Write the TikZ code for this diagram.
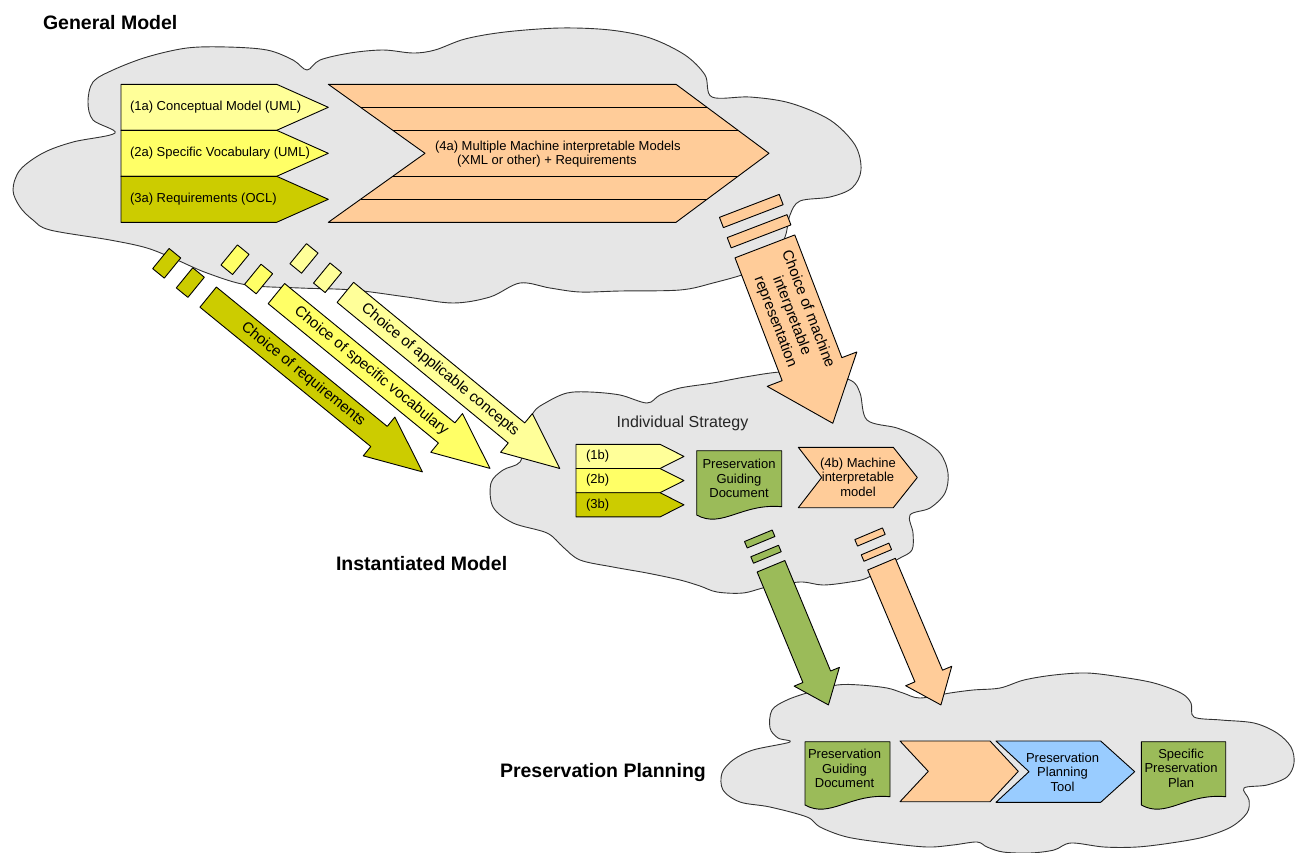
\documentclass[tikz,border=0pt]{standalone}
\usepackage{fontspec}
\setmainfont{Liberation Sans}
\definecolor{cloudgray}{HTML}{E6E6E6}
\definecolor{lightyel}{HTML}{FFFF99}
\definecolor{midyel}{HTML}{FFFF66}
\definecolor{darkyel}{HTML}{CCCC00}
\definecolor{peach}{HTML}{FFCC99}
\definecolor{leaf}{HTML}{9BBB59}
\definecolor{sky}{HTML}{99CCFF}

% geometry of a broken block arrow: dash thickness, gap, shaft width, head width, head length
\newcommand\arrowgeom[5]{\def\ad{#1}\def\ag{#2}\def\aw{#3}\def\ahw{#4}\def\ahl{#5}}
% #1 origin (centre of first dash), #2 angle below horizontal, #3 length to tip,
% #4 fill, #5 name of the label, #6 label position along the arrow, #7 label
\newcommand\brokenarrow[7]{%
  \begin{scope}[shift={#1}, rotate=-#2]
    \draw[box, fill=#4] (-\ad/2,-\aw/2) rectangle (\ad/2,\aw/2);
    \draw[box, fill=#4] (\ad/2+\ag,-\aw/2) rectangle (\ad*1.5+\ag,\aw/2);
    \draw[box, fill=#4] (\ad*1.5+\ag*2,-\aw/2) -- (#3-\ahl,-\aw/2) -- (#3-\ahl,-\ahw/2)
      -- (#3,0) -- (#3-\ahl,\ahw/2) -- (#3-\ahl,\aw/2) -- (\ad*1.5+\ag*2,\aw/2) -- cycle;
    \node[arrowtext, rotate=-#2] (#5) at (#6,0) {#7};
  \end{scope}}
% chevron: #1 name, #2 left, #3 notch, #4 right, #5 tip, #6 top, #7 bottom, #8 fill
\newcommand\chevron[8]{%
  \draw[box, fill=#8] (#2,#6) -- (#4,#6) -- (#5,{(#6+#7)/2}) -- (#4,#7) -- (#2,#7)
    -- (#3,{(#6+#7)/2}) -- cycle;
  \coordinate (#1) at ({(#2+#5)/2},{(#6+#7)/2});}
% document symbol: #1 name, #2 left, #3 right, #4 top, #5 lower left corner y, #6 fill
\newcommand\docshape[6]{%
  \draw[box, fill=#6] (#2,#4) -- (#3,#4) -- (#3,#5-8.3)
    .. controls (#3-40,#5-12) and (#2+25,#5+14) .. (#2,#5) -- cycle;
  \coordinate (#1) at ({(#2+#3)/2},{(#4+#5)/2});}

\begin{document}
\begin{tikzpicture}[x=1pt, y=-1pt, line join=round,
  every node/.style={inner sep=0pt, outer sep=0pt, text=black},
  cloudline/.style={fill=cloudgray, draw=black!80, line width=0.9pt},
  box/.style={draw=black, line width=0.9pt},
  lbl/.style={font=\fontsize{13}{14.5}\selectfont},
  boxtext/.style={font=\fontsize{13}{14.5}\selectfont, align=center},
  arrowtext/.style={font=\fontsize{15}{17.5}\selectfont, align=center},
  section/.style={font=\bfseries\fontsize{19.5}{22}\selectfont, anchor=base west}]
\useasboundingbox (0,0) rectangle (1304,852);

% ---------- clouds ----------
\draw[cloudline] plot[smooth cycle, tension=0.55] coordinates {
  (13,190) (20,170) (43,153) (73,142) (115,133) (93,120) (88,102) (93,82) (113,70)
  (147,57) (187,48) (227,47) (267,50) (293,60) (307,70) (320,60) (350,53) (383,50)
  (413,53) (435,50) (465,39) (505,32) (560,28) (610,30) (650,38) (685,55) (705,75)
  (712,97) (750,97) (790,103) (830,120) (855,145) (861,170) (852,188) (830,197)
  (800,201) (790,215) (785,237) (773,257) (750,272) (713,283) (680,290) (620,291)
  (580,292) (550,288) (520,283) (490,297) (453,303) (407,297) (353,290) (300,288)
  (247,285) (207,273) (177,260) (147,248) (110,240) (50,230) (33,220) (20,207)};

\draw[cloudline] plot[smooth cycle, tension=0.55] coordinates {
  (491,483) (503,470) (520,462) (525,440) (533,413) (547,402) (567,393) (590,392)
  (620,395) (647,403) (660,395) (680,388) (713,383) (745,377) (780,372) (815,372)
  (850,380) (860,393) (867,420) (897,428) (920,438) (940,453) (948,473) (945,493)
  (930,508) (910,515) (913,533) (912,550) (900,558) (887,565) (867,578) (850,582)
  (823,585) (800,582) (767,587) (743,593) (717,592) (700,586) (680,580) (647,573)
  (613,567) (580,560) (563,547) (547,533) (513,523) (493,507)};

\draw[cloudline] plot[smooth cycle, tension=0.55] coordinates {
  (722,773) (733,760) (753,750) (790,742) (778,738) (770,728) (772,710) (787,700)
  (810,692) (837,685) (860,685) (887,688) (903,693) (920,698) (950,693) (973,690)
  (1000,688) (1024,680) (1054,675) (1087,673) (1121,677) (1154,683) (1181,693)
  (1191,703) (1194,717) (1221,720) (1254,723) (1277,733) (1291,747) (1294,763)
  (1287,777) (1267,785) (1244,788) (1249,800) (1247,813) (1231,827) (1204,837)
  (1171,843) (1137,847) (1104,847) (1071,843) (1054,850) (1030,853) (1003,852)
  (987,847) (977,842) (953,845) (927,847) (887,843) (847,837) (820,827) (807,817)
  (770,807) (740,802) (723,790)};

% ---------- section titles ----------
\node[section] (general) at (43,29.3) {General Model};
\node[section] (instantiated) at (336,570) {Instantiated Model};
\node[section] (planning) at (500,777) {Preservation Planning};

% ---------- general model ----------
\chevron{c1a}{121}{121}{276.7}{328.3}{84.3}{130.3}{lightyel}
\chevron{c2a}{121}{121}{276.7}{328.3}{130.3}{176.3}{midyel}
\chevron{c3a}{121}{121}{276.7}{328.3}{176.3}{222.3}{darkyel}
\node[lbl, anchor=west] (t1a) at (130,107.3) {(1a) Conceptual Model (UML)};
\node[lbl, anchor=west] (t2a) at (130,153.3) {(2a) Specific Vocabulary (UML)};
\node[lbl, anchor=west] (t3a) at (130,199.3) {(3a) Requirements (OCL)};

\chevron{c4a}{328.3}{425}{676}{769}{84.3}{222.3}{peach}
\draw[box] (360.5,107.3) -- (707,107.3);
\draw[box] (392.8,130.3) -- (738,130.3);
\draw[box] (392.8,176.3) -- (738,176.3);
\draw[box] (360.5,199.3) -- (707,199.3);
\node[lbl, anchor=west, align=left] (t4a) at (435,154)
  {(4a) Multiple Machine interpretable Models\\\hspace*{22pt}(XML or other) + Requirements};

% ---------- broken block arrows ----------
\arrowgeom{15}{15.5}{26}{50}{56}
\brokenarrow{(166.7,263.3)}{39.2}{330}{darkyel}{areq}{176}{Choice of requirements}
\brokenarrow{(235,259.7)}{39.3}{329.5}{midyel}{avoc}{176}{Choice of specific vocabulary}
\brokenarrow{(304,258.4)}{39.4}{331}{lightyel}{acon}{176}{Choice of applicable concepts}

\arrowgeom{11}{10.7}{64}{96}{58}
\brokenarrow{(751.3,211)}{69}{227.4}{peach}{amach}{112}{Choice of machine\\interpretable\\representation}

\arrowgeom{7}{9.5}{30}{49}{30.5}
\brokenarrow{(759.7,539)}{67.5}{179.6}{leaf}{agreen}{90}{}
\arrowgeom{7}{9.5}{30}{50}{31.4}
\brokenarrow{(870,537)}{67.1}{182.3}{peach}{apeach}{90}{}

% ---------- instantiated model ----------
\node[font=\fontsize{16}{18}\selectfont, text=black!85] (strategy) at (682.5,423) {Individual Strategy};
\chevron{c1b}{576}{576}{660}{684}{444.3}{468.5}{lightyel}
\chevron{c2b}{576}{576}{660}{684}{468.5}{492.7}{midyel}
\chevron{c3b}{576}{576}{660}{684}{492.7}{516.9}{darkyel}
\node[lbl, anchor=west] (t1b) at (586,456.4) {(1b)};
\node[lbl, anchor=west] (t2b) at (586,480.6) {(2b)};
\node[lbl, anchor=west] (t3b) at (586,504.8) {(3b)};

\docshape{dmid}{696.7}{781.7}{450.7}{515}{leaf}
\node[boxtext] (tdmid) at (739,478.5) {Preservation\\Guiding\\Document};

\chevron{c4b}{798.3}{821.7}{893.3}{917.3}{447.3}{507.7}{peach}
\node[boxtext] (t4b) at (858,477) {(4b) Machine\\interpretable\\model};

% ---------- preservation planning ----------
\docshape{dlow}{805}{890}{741.7}{805}{leaf}
\node[boxtext] (tdlow) at (844.5,768.7) {Preservation\\Guiding\\Document};
\chevron{cemp}{900}{928.3}{990}{1018.3}{741}{801.7}{peach}
\chevron{ctool}{996}{1029}{1100.7}{1134.7}{741}{802.3}{sky}
\node[boxtext] (ttool) at (1062.5,772) {Preservation\\Planning\\Tool};
\docshape{dplan}{1141.3}{1225.7}{741.7}{805}{leaf}
\node[boxtext] (tplan) at (1181,768.3) {Specific\\Preservation\\Plan};
\end{tikzpicture}
\end{document}
